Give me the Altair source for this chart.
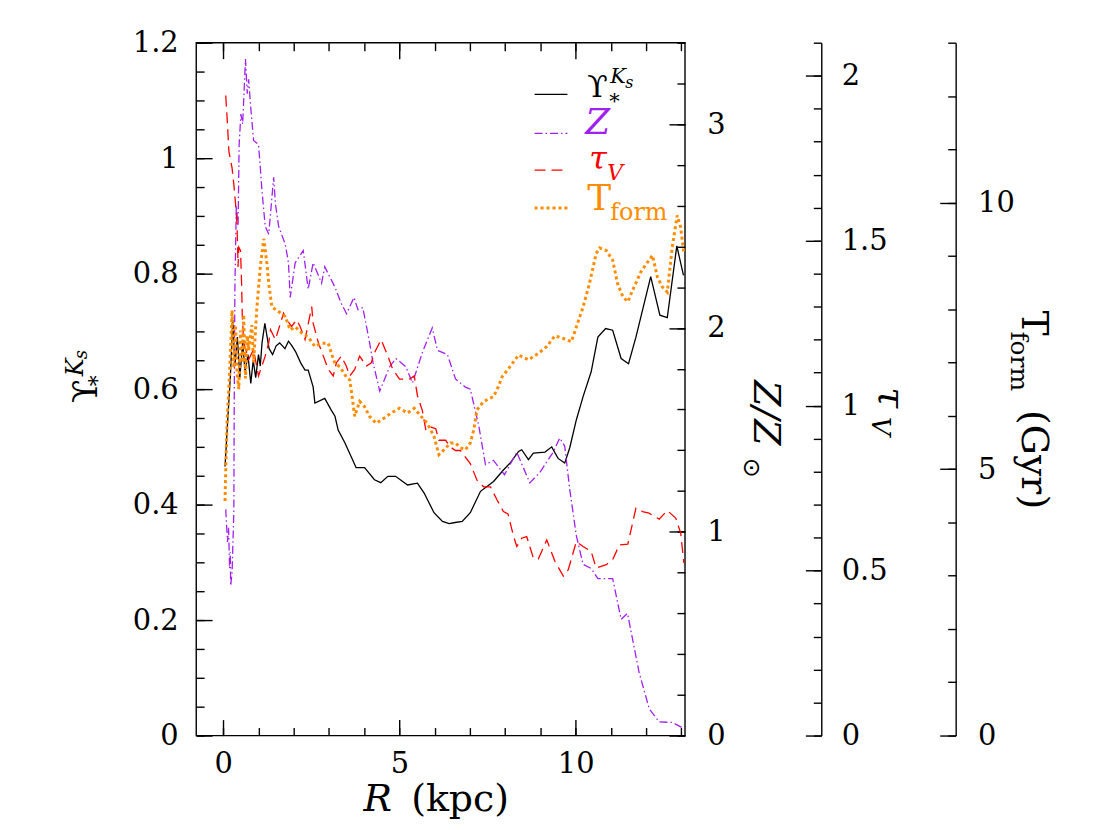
import altair as alt
import pandas as pd

# ---------------- data ----------------
ups_R = [0.05, 0.12, 0.2, 0.27, 0.33, 0.4, 0.47, 0.55, 0.62, 0.7, 0.78, 0.85, 0.92, 1.0, 1.05,
         1.1, 1.18, 1.3, 1.4, 1.5, 1.6, 1.75, 1.85, 1.95, 2.05, 2.2, 2.32, 2.41, 2.55, 2.6,
         2.88, 3.06, 3.17, 3.26, 3.45, 3.63, 3.77, 4.01, 4.29, 4.47, 4.67, 4.89, 5.23, 5.51, 5.70,
         5.98, 6.22, 6.41, 6.58, 6.78, 7.01, 7.30, 7.67, 7.95, 8.14, 8.38, 8.47, 8.66, 8.80, 9.13,
         9.32, 9.50, 9.69, 9.83, 10.02, 10.21, 10.44, 10.63, 10.85, 11.05, 11.29, 11.50, 11.71, 12.13, 12.39,
         12.60, 12.87, 13.06]
ups_v = [0.466, 0.54, 0.62, 0.72, 0.64, 0.69, 0.62, 0.68, 0.63, 0.66, 0.61, 0.65, 0.62, 0.66, 0.64,
         0.68, 0.714, 0.67, 0.66, 0.675, 0.68, 0.67, 0.683, 0.675, 0.665, 0.645, 0.633, 0.633, 0.604, 0.576,
         0.584, 0.564, 0.553, 0.529, 0.507, 0.483, 0.464, 0.464, 0.443, 0.438, 0.449, 0.449, 0.434, 0.437, 0.42,
         0.386, 0.371, 0.367, 0.369, 0.371, 0.386, 0.423, 0.44, 0.46, 0.472, 0.492, 0.495, 0.478, 0.489, 0.491,
         0.50, 0.48, 0.472, 0.498, 0.547, 0.587, 0.63, 0.69, 0.705, 0.702, 0.653, 0.644, 0.69, 0.795, 0.728,
         0.724, 0.848, 0.797]

z_R = [0.07, 0.12, 0.15, 0.18, 0.2, 0.21, 0.25, 0.3, 0.31, 0.33, 0.37, 0.42, 0.45, 0.5, 0.55,
       0.6, 0.63, 0.68, 0.72, 0.78, 0.86, 1.0, 1.05, 1.1, 1.19, 1.29, 1.43, 1.48, 1.57, 1.76,
       1.85, 1.9, 2.04, 2.27, 2.41, 2.55, 2.79, 2.88, 3.17, 3.35, 3.5, 3.71, 3.82, 3.96, 4.15,
       4.25, 4.44, 4.72, 4.9, 5.18, 5.37, 5.65, 5.93, 6.08, 6.36, 6.59, 6.87, 7.01, 7.25, 7.44,
       7.67, 7.98, 8.33, 8.70, 8.98, 9.36, 9.55, 9.69, 9.83, 10.02, 10.21, 10.44, 10.63, 11.05, 11.29,
       11.47, 11.80, 12.09, 12.37, 12.75, 13.07]
z_v = [1.11, 0.95, 1.02, 0.82, 0.9, 0.735, 0.8, 1.1, 1.6, 2.2, 2.6, 2.5, 2.9, 3.05, 3.0,
       3.2, 3.32, 3.15, 3.22, 3.08, 2.92, 2.90, 2.79, 2.67, 2.50, 2.46, 2.74, 2.61, 2.50, 2.41,
       2.32, 2.15, 2.32, 2.38, 2.19, 2.32, 2.22, 2.30, 2.20, 2.12, 2.07, 2.15, 2.09, 2.10, 1.93,
       1.83, 1.69, 1.81, 1.85, 1.81, 1.73, 1.88, 2.00, 1.89, 1.87, 1.75, 1.71, 1.70, 1.52, 1.33,
       1.35, 1.28, 1.39, 1.24, 1.29, 1.39, 1.46, 1.42, 1.21, 0.98, 0.84, 0.82, 0.77, 0.77, 0.57,
       0.60, 0.31, 0.13, 0.067, 0.064, 0.034]

tau_R = [0.07, 0.11, 0.16, 0.25, 0.30, 0.35, 0.39, 0.42, 0.44, 0.49, 0.52, 0.54, 0.58, 0.72, 0.86,
         1.0, 1.19, 1.29, 1.34, 1.48, 1.71, 1.80, 1.94, 2.08, 2.18, 2.32, 2.51, 2.55, 2.70, 2.84,
         2.98, 3.12, 3.21, 3.35, 3.49, 3.59, 3.73, 3.87, 4.06, 4.20, 4.29, 4.48, 4.67, 4.81, 5.00,
         5.28, 5.42, 5.51, 5.65, 5.75, 5.89, 6.03, 6.12, 6.31, 6.45, 6.59, 6.73, 6.87, 7.01, 7.20,
         7.39, 7.58, 7.77, 7.95, 8.08, 8.24, 8.33, 8.47, 8.61, 8.80, 8.94, 9.18, 9.41, 9.65, 9.79,
         10.02, 10.21, 10.44, 10.58, 10.87, 11.05, 11.24, 11.48, 11.71, 11.90, 12.08, 12.37, 12.60, 12.84, 12.98,
         13.07]
tau_v = [1.94, 1.87, 1.77, 1.72, 1.67, 1.61, 1.55, 1.42, 1.48, 1.47, 1.37, 1.27, 1.19, 1.14, 1.17,
         1.09, 1.15, 1.19, 1.23, 1.20, 1.28, 1.26, 1.24, 1.26, 1.24, 1.20, 1.30, 1.25, 1.19, 1.15,
         1.11, 1.09, 1.13, 1.15, 1.12, 1.09, 1.11, 1.15, 1.12, 1.13, 1.16, 1.20, 1.15, 1.11, 1.08,
         1.08, 1.09, 1.03, 0.985, 0.925, 0.935, 0.93, 0.895, 0.895, 0.874, 0.864, 0.864, 0.844, 0.824, 0.774,
         0.754, 0.754, 0.714, 0.679, 0.672, 0.603, 0.573, 0.598, 0.603, 0.538, 0.535, 0.593, 0.528, 0.483, 0.503,
         0.588, 0.573, 0.558, 0.508, 0.518, 0.533, 0.578, 0.58, 0.689, 0.679, 0.674, 0.656, 0.682, 0.659, 0.614,
         0.523]

tf_R = [0.05, 0.07, 0.11, 0.16, 0.21, 0.25, 0.30, 0.35, 0.39, 0.44, 0.49, 0.54, 0.58, 0.63, 0.68,
        0.72, 0.81, 0.86, 0.95, 1.05, 1.15, 1.24, 1.29, 1.38, 1.52, 1.76, 1.90, 2.04, 2.23, 2.41,
        2.60, 2.79, 2.98, 3.07, 3.17, 3.31, 3.49, 3.59, 3.63, 3.68, 3.73, 3.87, 4.01, 4.15, 4.34,
        4.57, 4.76, 5.0, 5.23, 5.42, 5.61, 5.79, 5.98, 6.12, 6.26, 6.45, 6.59, 6.73, 6.87, 7.01,
        7.11, 7.20, 7.39, 7.67, 7.81, 7.91, 8.10, 8.38, 8.66, 8.94, 9.18, 9.41, 9.65, 9.88, 10.02,
        10.21, 10.39, 10.58, 10.68, 10.87, 11.05, 11.19, 11.34, 11.48, 11.62, 11.85, 12.08, 12.18, 12.32, 12.46,
        12.60, 12.74, 12.88, 12.98, 13.07]
tf_v = [4.40, 4.99, 5.93, 6.55, 7.3, 7.98, 6.9, 7.7, 6.8, 6.5, 7.6, 7.0, 7.9, 6.7, 7.5,
        7.23, 7.7, 7.0, 8.0, 8.79, 9.32, 8.85, 8.48, 8.04, 7.98, 7.86, 7.61, 7.67, 7.55, 7.48,
        7.30, 7.36, 7.36, 7.17, 6.98, 6.92, 6.73, 6.67, 6.49, 6.24, 5.99, 6.27, 6.17, 5.99, 5.86,
        5.96, 6.05, 6.14, 6.05, 6.14, 5.99, 5.86, 5.61, 5.27, 5.36, 5.49, 5.49, 5.40, 5.36, 5.49,
        5.74, 6.11, 6.27, 6.36, 6.55, 6.73, 6.89, 7.14, 7.05, 7.17, 7.30, 7.50, 7.45, 7.39, 7.67,
        8.04, 8.48, 9.04, 9.15, 9.10, 8.92, 8.48, 8.23, 8.14, 8.36, 8.70, 8.92, 9.01, 8.60, 8.42,
        8.32, 9.16, 9.76, 9.54, 9.04]

# tick values
x_major = [0, 5, 10]
x_minor = list(range(0, 14))
ups_major = [0, 0.2, 0.4, 0.6, 0.8, 1, 1.2]
ups_minor = [round(i * 0.05, 2) for i in range(25)]
z_major = [0, 1, 2, 3]
z_minor = [round(i * 0.2, 1) for i in range(18)]
tau_major = [0, 0.5, 1, 1.5, 2]
tau_minor = [round(i * 0.1, 1) for i in range(22)]
tf_major = [0, 5, 10]
tf_minor = list(range(0, 14))

# ---------------- styling ----------------
W, H = 491, 696
FONT = "DejaVu Serif"
PURPLE = "#A020F0"
RED = "#FF0000"
ORANGE = "#FF8C00"
XS = alt.Scale(domain=[-0.77, 13.1], nice=False, zero=False)
DASH_Z = [8, 3, 1.5, 3]
DASH_TAU = [11, 6]
DASH_TF = [3, 3]


def ys(lo, hi):
    return alt.Scale(domain=[lo, hi], nice=False, zero=False)


def ax(orient, values, size, labels=True, pad=0, offset=0, domain=False):
    kw = dict(orient=orient, values=values, tickSize=alt.ExprRef(expr=str(-size)),
              labels=labels, domain=domain, title=None, grid=False, offset=offset)
    if labels:
        kw.update(labelPadding=pad, labelExpr="'' + datum.value")
    return alt.Axis(**kw)


def series(R, v):
    return pd.DataFrame({"R": R, "v": v})


l_ups = alt.Chart(series(ups_R, ups_v)).mark_line(color="black", strokeWidth=1.3, clip=True).encode(
    x=alt.X("R:Q", scale=XS, axis=ax("bottom", x_major, 16, True, 30)),
    y=alt.Y("v:Q", scale=ys(0, 1.2), axis=ax("left", ups_major, 16, True, 34)),
)
l_z = alt.Chart(series(z_R, z_v)).mark_line(color=PURPLE, strokeWidth=1.3, strokeDash=DASH_Z, clip=True).encode(
    x=alt.X("R:Q", scale=XS, axis=ax("top", x_major, 16, False)),
    y=alt.Y("v:Q", scale=ys(0, 3.4), axis=ax("right", z_major, 16, True, 38)),
)
l_tau = alt.Chart(series(tau_R, tau_v)).mark_line(color=RED, strokeWidth=1.3, strokeDash=DASH_TAU, clip=True).encode(
    x=alt.X("R:Q", scale=XS, axis=ax("bottom", x_minor, 8, False)),
    y=alt.Y("v:Q", scale=ys(0, 2.1), axis=ax("right", tau_major, 16, True, 36, offset=137, domain=True)),
)
l_tf = alt.Chart(series(tf_R, tf_v)).mark_line(color=ORANGE, strokeWidth=3, strokeDash=DASH_TF,
                                              strokeCap="butt", clip=True).encode(
    x=alt.X("R:Q", scale=XS, axis=ax("top", x_minor, 8, False)),
    y=alt.Y("v:Q", scale=ys(0, 13), axis=ax("right", tf_major, 16, True, 38, offset=272, domain=True)),
)


def minor(vals, lo, hi, orient, offset=0):
    return alt.Chart(pd.DataFrame({"t": vals})).mark_point(opacity=0).encode(
        y=alt.Y("t:Q", scale=ys(lo, hi), axis=ax(orient, vals, 8, False, offset=offset)))


m_ups = minor(ups_minor, 0, 1.2, "left")
m_z = minor(z_minor, 0, 3.4, "right")
m_tau = minor(tau_minor, 0, 2.1, "right", 137)
m_tf = minor(tf_minor, 0, 13, "right", 272)

ONE = pd.DataFrame({"a": [0]})


def txt(s, x, y, size, color="black", style="normal", angle=0, font=FONT):
    return alt.Chart(ONE).mark_text(text=s, font=font, fontSize=size, color=color, fontStyle=style,
                                    angle=angle, align="left", baseline="alphabetic").encode(
        x=alt.value(x), y=alt.value(y))


def legline(y, color, width, dash=None):
    kw = dict(color=color, strokeWidth=width)
    if dash:
        kw["strokeDash"] = dash
        kw["strokeCap"] = "butt"
    return alt.Chart(ONE).mark_rule(**kw).encode(x=alt.value(340), x2=alt.value(373), y=alt.value(y))


legend = [
    legline(52, "black", 1.3),
    legline(91, PURPLE, 1.3, DASH_Z),
    legline(128, RED, 1.3, DASH_TAU),
    legline(166, ORANGE, 3, DASH_TF),
    txt("\u03d2", 393, 55, 30),
    txt("K", 416, 40, 21, style="italic"),
    txt("s", 431, 46, 16, style="italic"),
    txt("*", 415, 66, 21),
    txt("Z", 391, 92, 36, PURPLE, "italic"),
    txt("\u03c4", 395, 127, 32, RED, "italic"),
    txt("V", 413, 138, 22, RED, "italic"),
    txt("T", 393, 168, 36, ORANGE),
    txt("form", 416, 178, 24, ORANGE),
]

titles = [
    # x title
    txt("R", 168, 772, 38, style="italic"),
    txt("(kpc)", 216, 772, 38),
    # left title (reads upward)
    txt("\u03d2", -100, 362, 34, angle=270),
    txt("K", -114, 335, 24, style="italic", angle=270),
    txt("s", -110, 318, 18, style="italic", angle=270),
    txt("*", -92, 345, 22, angle=270),
    # Z / Z_sun
    txt("Z/Z", 560, 339, 38, style="italic", angle=90),
    txt("\u2299", 550, 417, 24, angle=90, font="DejaVu Sans"),
    # tau_V
    txt("\u03c4", 686, 346, 38, style="italic", angle=90),
    txt("V", 679, 376, 26, style="italic", angle=90),
    # T_form (Gyr)
    txt("T", 830, 269, 38, angle=90),
    txt("form", 819, 290, 25, angle=90),
    txt("(Gyr)", 830, 369, 38, angle=90),
]

chart = alt.layer(
    l_ups, l_z, l_tau, l_tf, m_ups, m_z, m_tau, m_tf, *legend, *titles
).resolve_scale(
    x="independent", y="independent"
).properties(
    width=W, height=H,
    autosize=alt.AutoSizeParams(type="none"),
    padding={"left": 189, "top": 33, "right": 420, "bottom": 88},
).configure_view(
    stroke="black", strokeWidth=1.4
).configure_axis(
    labelFont=FONT, labelFontSize=29, labelColor="black",
    tickColor="black", tickWidth=1.4, domainColor="black", domainWidth=1.4, grid=False,
)

chart.save("out.html", embed_options={"renderer": "svg", "actions": False})
